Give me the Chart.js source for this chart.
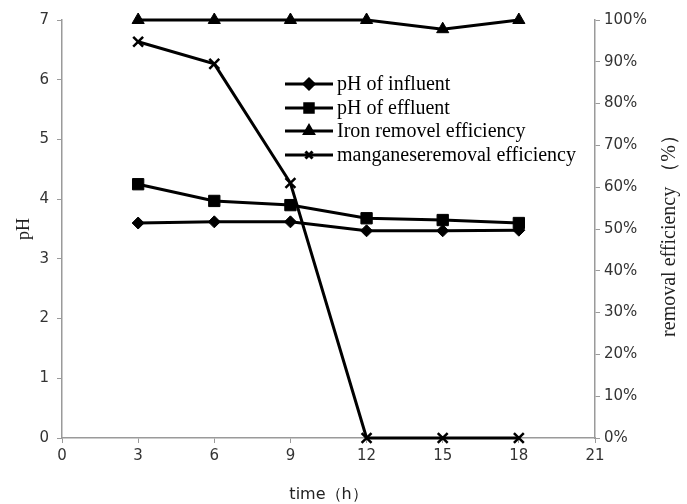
<!DOCTYPE html>
<html><head><meta charset="utf-8">
<script src="https://cdn.jsdelivr.net/npm/chart.js@4"></script>
<style>html,body{margin:0;padding:0;background:#fff}#wrap{width:687px;height:504px;position:relative}</style>
</head><body><div id="wrap"><canvas id="c" width="687" height="504"></canvas></div>
<script>
const times = [3, 6, 9, 12, 15, 18];
const phInfluent = [3.6, 3.62, 3.62, 3.47, 3.47, 3.48];
const phEffluent = [4.25, 3.97, 3.9, 3.68, 3.65, 3.6];
const ironRemoval = [100, 100, 100, 100, 97.8, 100];
const manganeseRemoval = [94.8, 89.5, 61, 0, 0, 0];
const xTicks = [0, 3, 6, 9, 12, 15, 18, 21];
const seriesLabels = ['pH of influent', 'pH of effluent', 'Iron removel efficiency', 'manganeseremoval efficiency'];
const leftTitle = 'pH';
const rightTitle = 'removal efficiency （%）';

const pts = (ys) => times.map((t, i) => ({x: t, y: ys[i]}));
const axisCol = '#9a9a9a';
const tickFont = {family: 'DejaVu Sans', size: 15};

const legendPlugin = {
  id: 'customLegend',
  afterDraw(chart) {
    const ctx = chart.ctx;
    const x0 = 285, x1 = 333, tx = 337;
    const ys = [84, 108, 131, 155];
    chart.data.datasets.forEach((ds, i) => {
      const y = ys[i];
      ctx.save();
      ctx.strokeStyle = '#000'; ctx.lineWidth = 3;
      ctx.beginPath(); ctx.moveTo(x0, y); ctx.lineTo(x1, y); ctx.stroke();
      ctx.fillStyle = '#000'; ctx.strokeStyle = '#000';
      Chart.helpers.drawPoint(ctx, {pointStyle: ds.pointStyle, radius: ds.legendRadius, rotation: 0, borderWidth: 1}, (x0 + x1) / 2, y);
      ctx.font = '20px "Liberation Serif"';
      ctx.textBaseline = 'middle';
      ctx.fillText(ds.label, tx, y + 1);
      ctx.restore();
    });
    const ca = chart.chartArea;
    const cy = (ca.top + ca.bottom) / 2;
    ctx.save();
    ctx.fillStyle = '#222';
    ctx.textAlign = 'center'; ctx.textBaseline = 'middle';
    ctx.font = '18px "Liberation Serif"';
    ctx.translate(24, cy); ctx.rotate(-Math.PI / 2);
    ctx.fillText(leftTitle, 0, 0);
    ctx.restore();
    ctx.save();
    ctx.fillStyle = '#222';
    ctx.textAlign = 'center'; ctx.textBaseline = 'middle';
    ctx.font = '20px "Liberation Serif"';
    ctx.translate(670, 231); ctx.rotate(-Math.PI / 2);
    ctx.fillText(rightTitle, 0, 0);
    ctx.restore();
  }
};

new Chart(document.getElementById('c'), {
  type: 'line',
  data: {
    datasets: [
      {label: seriesLabels[0], data: pts(phInfluent), yAxisID: 'y', pointStyle: 'rectRot', pointRadius: 6, legendRadius: 5},
      {label: seriesLabels[1], data: pts(phEffluent), yAxisID: 'y', pointStyle: 'rect', pointRadius: 8, legendRadius: 6},
      {label: seriesLabels[2], data: pts(ironRemoval), yAxisID: 'y2', pointStyle: 'triangle', pointRadius: 7, legendRadius: 5},
      {label: seriesLabels[3], data: pts(manganeseRemoval), yAxisID: 'y2', pointStyle: 'crossRot', pointRadius: 7, legendRadius: 5}
    ].map(d => Object.assign({borderColor: '#000', backgroundColor: '#000', pointBackgroundColor: '#000', pointBorderColor: '#000', borderWidth: 3, pointBorderWidth: d.pointStyle === 'crossRot' ? 2.5 : 1, tension: 0, clip: false}, d))
  },
  options: {
    responsive: false, animation: false,
    layout: {padding: {top: 20, left: 0, right: 0, bottom: 0}},
    plugins: {legend: {display: false}, tooltip: {enabled: false}},
    scales: {
      x: {
        type: 'linear', min: 0, max: 21,
        afterBuildTicks: (s) => { s.ticks = xTicks.map(v => ({value: v})); },
        afterFit: (s) => { s.height = 66; },
        grid: {drawOnChartArea: false, color: axisCol, tickLength: 5},
        border: {color: axisCol, width: 1.5},
        ticks: {color: '#333', font: tickFont, padding: 4, maxRotation: 0},
        title: {display: true, text: 'time（h）', color: '#222', font: {family: 'DejaVu Sans', size: 16}, padding: {top: 12, bottom: 0}}
      },
      y: {
        position: 'left', min: 0, max: 7,
        afterFit: (s) => { s.width = 62; },
        grid: {drawOnChartArea: false, color: axisCol, tickLength: 5},
        border: {color: axisCol, width: 1.5},
        ticks: {stepSize: 1, color: '#333', font: tickFont, padding: 8}
      },
      y2: {
        position: 'right', min: 0, max: 100,
        afterFit: (s) => { s.width = 92; },
        grid: {drawOnChartArea: false, color: axisCol, tickLength: 5},
        border: {color: axisCol, width: 1.5},
        ticks: {stepSize: 10, color: '#333', font: tickFont, padding: 4, callback: v => v + '%'}
      }
    }
  },
  plugins: [legendPlugin]
});
</script></body></html>
